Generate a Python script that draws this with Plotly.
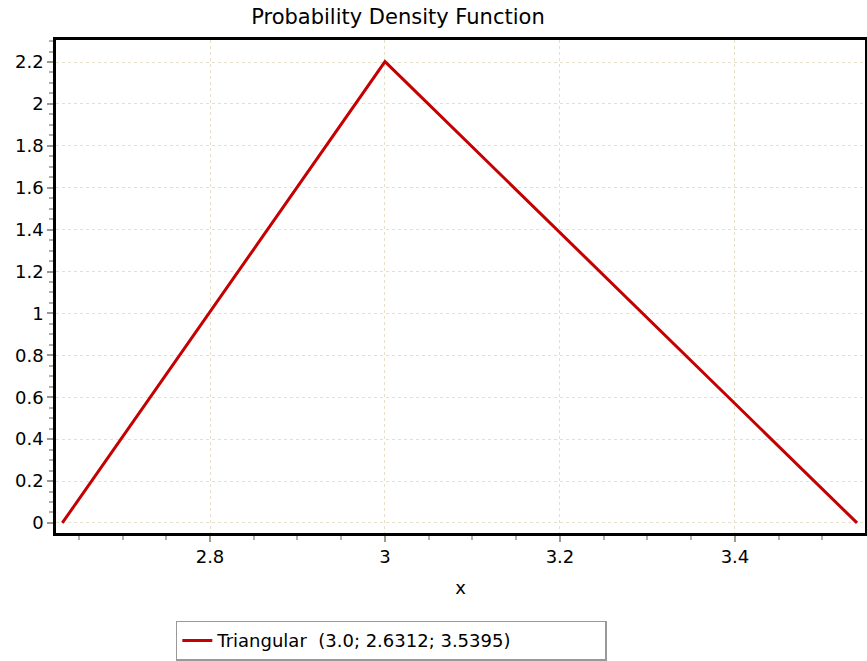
import plotly.graph_objects as go

x_vals = [2.6312, 3.0, 3.5395]
pdf_vals = [0.0, 2.2019, 0.0]
series_name = "Triangular  (3.0; 2.6312; 3.5395)"
x_ticks = [2.8, 3.0, 3.2, 3.4]
x_tick_labels = ["2.8", "3", "3.2", "3.4"]
y_ticks = [0, 0.2, 0.4, 0.6, 0.8, 1.0, 1.2, 1.4, 1.6, 1.8, 2.0, 2.2]
y_tick_labels = ["0", "0.2", "0.4", "0.6", "0.8", "1", "1.2", "1.4", "1.6", "1.8", "2", "2.2"]

FONT = "DejaVu Sans, Arial, sans-serif"

fig = go.Figure()
fig.add_trace(go.Scatter(
    x=x_vals, y=pdf_vals, mode="lines", name=series_name,
    line=dict(color="#c40000", width=3),
))

axis_common = dict(
    showline=True, linecolor="black", linewidth=2.5, mirror=True,
    showgrid=True, gridcolor="#e4e0cc", griddash="dot", gridwidth=1.2,
    zeroline=False, ticks="outside", ticklen=6, tickwidth=1.5, tickcolor="#9a9a90",
    tickfont=dict(family=FONT, size=18, color="black"),
    minor=dict(ticks="outside", ticklen=4, tickwidth=1.5, tickcolor="#b0b0a8", dtick=0.05, showgrid=False),
    automargin=False,
)

fig.update_xaxes(
    range=[2.624, 3.5486], tickvals=x_ticks, ticktext=x_tick_labels,
    title=dict(text="x", font=dict(family=FONT, size=18, color="black"), standoff=16),
    **axis_common,
)
fig.update_yaxes(
    range=[-0.048, 2.305], tickvals=y_ticks, ticktext=y_tick_labels,
    **axis_common,
)

fig.update_layout(
    width=867, height=661,
    margin=dict(l=56, r=2, t=40, b=128, autoexpand=False),
    paper_bgcolor="white", plot_bgcolor="white",
    title=dict(text="Probability Density Function", x=0.459, xanchor="center", y=0.975, yanchor="middle",
               font=dict(family=FONT, size=21, color="black")),
    showlegend=True,
    legend=dict(orientation="h", x=0.4145, xanchor="center", y=-0.178, yanchor="top",
                entrywidth=383, entrywidthmode="pixels",
                bordercolor="#999999", borderwidth=1.5, bgcolor="white",
                font=dict(family=FONT, size=18, color="black")),
    font=dict(family=FONT),
)

fig.write_html(
    "out.html",
    config={"displayModeBar": False},
    post_script="document.body.style.margin='0';document.body.style.overflow='hidden';",
)
